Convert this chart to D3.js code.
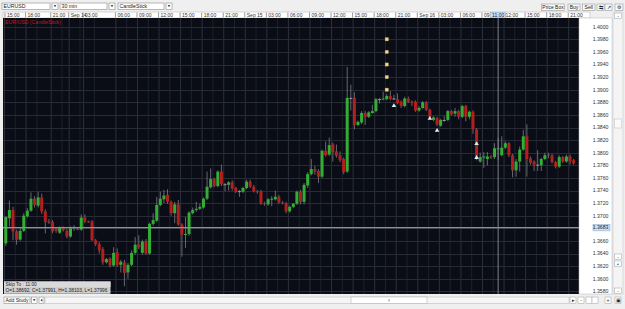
<!DOCTYPE html>
<html>
<head>
<meta charset="utf-8">
<script src="https://cdn.jsdelivr.net/npm/d3@7"></script>
<style>
  html, body { margin: 0; padding: 0; background: #efefef; }
  svg text { font-family: "Liberation Sans", Arial, sans-serif; }
</style>
</head>
<body>
<svg class="chart"></svg>
<script>
// EURUSD 30 min candles
var opens = [1.3656,1.3696,1.3709,1.3675,1.3662,1.3676,1.3699,1.3708,1.3727,1.3716,
  1.3729,1.3707,1.3691,1.3690,1.3680,1.3673,1.3681,1.3676,1.3667,1.3680,
  1.3679,1.3678,1.3697,1.3691,1.3691,1.3661,1.3655,1.3647,1.3626,1.3632,
  1.3621,1.3642,1.3622,1.3626,1.3610,1.3622,1.3641,1.3654,1.3641,1.3660,
  1.3640,1.3687,1.3692,1.3717,1.3726,1.3733,1.3722,1.3704,1.3718,1.3686,
  1.3670,1.3671,1.3704,1.3709,1.3711,1.3713,1.3727,1.3745,1.3758,1.3747,
  1.3770,1.3750,1.3749,1.3753,1.3744,1.3739,1.3738,1.3744,1.3754,1.3746,
  1.3739,1.3739,1.3720,1.3718,1.3726,1.3726,1.3730,1.3721,1.3720,1.3707,
  1.3714,1.3719,1.3738,1.3722,1.3748,1.3766,1.3774,1.3771,1.3762,1.3803,
  1.3797,1.3813,1.3802,1.3796,1.3790,1.3770,1.3887,1.3887,1.3844,1.3848,
  1.3863,1.3857,1.3863,1.3866,1.3885,1.3885,1.3885,1.3890,1.3886,1.3885,
  1.3881,1.3874,1.3886,1.3881,1.3881,1.3867,1.3871,1.3880,1.3868,1.3852,
  1.3855,1.3843,1.3852,1.3852,1.3866,1.3862,1.3866,1.3857,1.3874,1.3857,
  1.3865,1.3837,1.3786,1.3793,1.3790,1.3794,1.3793,1.3806,1.3796,1.3808,
  1.3815,1.3796,1.3772,1.3786,1.3805,1.3826,1.3791,1.3786,1.3781,1.3780,
  1.3790,1.3797,1.3796,1.3785,1.3778,1.3793,1.3786,1.3794,1.3788];
var highs = [1.3699,1.3724,1.3714,1.3678,1.3680,1.3704,1.3712,1.3737,1.3731,1.3738,
  1.3735,1.3710,1.3695,1.3693,1.3682,1.3683,1.3683,1.3679,1.3683,1.3685,
  1.3681,1.3702,1.3702,1.3692,1.3693,1.3663,1.3658,1.3650,1.3633,1.3634,
  1.3650,1.3648,1.3630,1.3630,1.3625,1.3645,1.3666,1.3669,1.3662,1.3663,
  1.3689,1.3704,1.3730,1.3738,1.3741,1.3742,1.3724,1.3722,1.3725,1.3688,
  1.3698,1.3707,1.3713,1.3722,1.3719,1.3729,1.3770,1.3775,1.3760,1.3772,
  1.3781,1.3752,1.3755,1.3756,1.3746,1.3741,1.3746,1.3757,1.3757,1.3749,
  1.3741,1.3741,1.3722,1.3728,1.3731,1.3740,1.3733,1.3723,1.3722,1.3716,
  1.3720,1.3740,1.3741,1.3752,1.3769,1.3790,1.3779,1.3774,1.3805,1.3818,
  1.3824,1.3816,1.3813,1.3802,1.3792,1.3936,1.3908,1.3896,1.3851,1.3866,
  1.3866,1.3866,1.3876,1.3887,1.3887,1.3897,1.3893,1.3898,1.3892,1.3894,
  1.3883,1.3889,1.3889,1.3883,1.3883,1.3874,1.3882,1.3882,1.3870,1.3858,
  1.3857,1.3854,1.3858,1.3868,1.3868,1.3871,1.3868,1.3876,1.3876,1.3867,
  1.3867,1.3839,1.3800,1.3801,1.3801,1.3796,1.3815,1.3824,1.3826,1.3818,
  1.3817,1.3798,1.3790,1.3810,1.3836,1.3845,1.3794,1.3788,1.3804,1.3792,
  1.3800,1.3800,1.3798,1.3787,1.3796,1.3795,1.3797,1.3797,1.3790];
var lows = [1.3652,1.3683,1.3661,1.3654,1.3660,1.3674,1.3697,1.3706,1.3713,1.3713,
  1.3703,1.3672,1.3687,1.3672,1.3673,1.3671,1.3675,1.3664,1.3665,1.3676,
  1.3677,1.3676,1.3688,1.3689,1.3660,1.3652,1.3640,1.3622,1.3624,1.3618,
  1.3619,1.3619,1.3610,1.3588,1.3600,1.3620,1.3638,1.3647,1.3638,1.3638,
  1.3638,1.3684,1.3690,1.3715,1.3720,1.3719,1.3700,1.3688,1.3684,1.3635,
  1.3649,1.3668,1.3702,1.3706,1.3709,1.3711,1.3725,1.3743,1.3745,1.3745,
  1.3747,1.3739,1.3740,1.3740,1.3736,1.3730,1.3736,1.3742,1.3744,1.3737,
  1.3735,1.3717,1.3716,1.3716,1.3715,1.3724,1.3719,1.3718,1.3704,1.3705,
  1.3712,1.3717,1.3718,1.3718,1.3744,1.3764,1.3765,1.3752,1.3760,1.3794,
  1.3795,1.3786,1.3792,1.3785,1.3766,1.3768,1.3867,1.3837,1.3842,1.3845,
  1.3844,1.3855,1.3862,1.3864,1.3878,1.3883,1.3883,1.3883,1.3884,1.3877,
  1.3871,1.3872,1.3879,1.3874,1.3865,1.3865,1.3869,1.3866,1.3856,1.3850,
  1.3842,1.3841,1.3849,1.3850,1.3859,1.3857,1.3853,1.3855,1.3850,1.3853,
  1.3830,1.3788,1.3784,1.3776,1.3780,1.3790,1.3790,1.3788,1.3794,1.3806,
  1.3793,1.3761,1.3762,1.3770,1.3803,1.3762,1.3781,1.3771,1.3771,1.3771,
  1.3788,1.3791,1.3783,1.3775,1.3776,1.3784,1.3784,1.3781,1.3781];
var closes = [1.3698,1.3709,1.3675,1.3662,1.3676,1.3700,1.3708,1.3727,1.3717,1.3729,
  1.3707,1.3690,1.3689,1.3675,1.3676,1.3681,1.3677,1.3667,1.3680,1.3682,
  1.3678,1.3697,1.3691,1.3690,1.3661,1.3655,1.3645,1.3626,1.3631,1.3621,
  1.3641,1.3622,1.3627,1.3609,1.3622,1.3641,1.3654,1.3650,1.3659,1.3640,
  1.3687,1.3693,1.3717,1.3727,1.3732,1.3722,1.3704,1.3718,1.3686,1.3670,
  1.3671,1.3705,1.3709,1.3711,1.3714,1.3727,1.3746,1.3758,1.3747,1.3770,
  1.3750,1.3750,1.3753,1.3743,1.3738,1.3739,1.3744,1.3754,1.3746,1.3739,
  1.3738,1.3719,1.3718,1.3726,1.3727,1.3730,1.3721,1.3720,1.3707,1.3714,
  1.3719,1.3738,1.3722,1.3749,1.3766,1.3774,1.3770,1.3762,1.3803,1.3796,
  1.3812,1.3801,1.3795,1.3788,1.3769,1.3887,1.3887,1.3844,1.3849,1.3863,
  1.3857,1.3864,1.3866,1.3885,1.3885,1.3886,1.3890,1.3885,1.3886,1.3879,
  1.3874,1.3886,1.3881,1.3880,1.3867,1.3871,1.3880,1.3868,1.3857,1.3856,
  1.3845,1.3852,1.3852,1.3866,1.3861,1.3866,1.3857,1.3874,1.3857,1.3865,
  1.3837,1.3791,1.3793,1.3794,1.3794,1.3793,1.3807,1.3807,1.3808,1.3815,
  1.3796,1.3772,1.3786,1.3805,1.3826,1.3790,1.3784,1.3781,1.3781,1.3790,
  1.3796,1.3796,1.3785,1.3778,1.3793,1.3786,1.3794,1.3786,1.3783];

// time axis: candle index where each label sits, and its text
var tickIndex = [0, 6, 13, 18, 22, 31, 37, 43, 49, 55, 61, 67, 73, 79, 85, 91, 97,
  103, 109, 115, 121, 127, 133, 139, 145, 151, 157];
var tickLabels = ["15:00", "18:00", "21:00", "Sep 14", "03:00", "06:00", "09:00",
  "12:00", "15:00", "18:00", "21:00", "Sep 15", "03:00", "06:00", "09:00", "12:00",
  "15:00", "18:00", "21:00", "Sep 16", "03:00", "06:00", "09:00", "12:00", "15:00",
  "18:00", "21:00"];

// price axis labels
var priceTicks = d3.range(1.4000, 1.3570, -0.0020);

// study markers
var squareIndex = [106, 106, 106, 106, 106];
var squarePrice = [1.3980, 1.3960, 1.3940, 1.3920, 1.3900];
var triIndex = [108, 118, 120, 131, 131];
var triPrice = [1.38755, 1.3855, 1.3836, 1.3815, 1.3793];

// crosshair
var crossIndex = 137;
var crossPrice = 1.3681;
var crossPriceLabel = "1.3683";
var crossTimeLabel = "11:00";

var W = 625, H = 309;
var plot = { left: 3, right: 579, top: 18, bottom: 294 };

var svg = d3.select(".chart").attr("width", W).attr("height", H);

svg.append("rect").attr("width", W).attr("height", H).attr("fill", "#efefef");

var x = d3.scaleBand()
    .domain(d3.range(160))
    .range([plot.left + 1, plot.right])
    .paddingInner(0);
var y = d3.scaleLinear()
    .domain([1.3580, 1.4000])
    .range([291.3, 26.7]);
var bw = x.bandwidth();
function cx(i) { return x(i) + bw / 2; }

var defs = svg.append("defs");

// ---- toolbar ----
function dropdown(x0, w, label) {
  var g = svg.append("g");
  g.append("rect").attr("x", x0).attr("y", 3).attr("width", w).attr("height", 6.5)
      .attr("fill", "#fff").attr("stroke", "#8a8a8a").attr("stroke-width", 0.6);
  g.append("text").attr("x", x0 + 1.5).attr("y", 8.2).attr("font-size", 5.2)
      .attr("fill", "#222").text(label);
  g.append("rect").attr("x", x0 + w + 2).attr("y", 3).attr("width", 6).attr("height", 6.5)
      .attr("fill", "#fff").attr("stroke", "#8a8a8a").attr("stroke-width", 0.6);
  g.append("path")
      .attr("d", "M" + (x0 + w + 3.6) + ",5.3 h2.8 l-1.4,1.8 z")
      .attr("fill", "#222");
}
dropdown(2, 48, "EURUSD");
dropdown(60, 47, "30 min");
dropdown(118, 46, "CandleStick");

var buttons = [{ x: 541.5, w: 23, t: "Price Box" }, { x: 568, w: 12, t: "Buy" },
  { x: 582.5, w: 12.5, t: "Sell" }, { x: 597, w: 7, t: "⇆" }, { x: 605, w: 7, t: "↗" },
  { x: 615, w: 8, t: "⚙" }];
buttons.forEach(function(b) {
  svg.append("rect").attr("x", b.x).attr("y", 4).attr("width", b.w).attr("height", 6.5)
      .attr("fill", "#f8f8f8").attr("stroke", "#9a9a9a").attr("stroke-width", 0.6);
  svg.append("text").attr("x", b.x + b.w / 2).attr("y", 9.2).attr("text-anchor", "middle")
      .attr("font-size", 5).attr("fill", "#222").text(b.t);
});

// ---- time axis strip ----
svg.append("rect").attr("x", plot.left).attr("y", 12).attr("width", 587).attr("height", 6)
    .attr("fill", "#fff").attr("stroke", "#b0b0b0").attr("stroke-width", 0.5);

// the crosshair time box covers part of the strip, so clip labels around it
var hlLeft = cx(crossIndex) - 7.5, hlRight = cx(crossIndex) + 7.5;
var tclip = defs.append("clipPath").attr("id", "timeclip");
tclip.append("rect").attr("x", 0).attr("y", 10).attr("width", hlLeft).attr("height", 10);
tclip.append("rect").attr("x", hlRight).attr("y", 10).attr("width", W - hlRight).attr("height", 10);

var tg = svg.append("g").attr("class", "timeaxis").attr("clip-path", "url(#timeclip)");
tickIndex.forEach(function(t, k) {
  var xx = Math.max(x(t), plot.left + 2);
  tg.append("line").attr("x1", xx).attr("x2", xx).attr("y1", 12.5).attr("y2", 17.5)
      .attr("stroke", "#555").attr("stroke-width", 0.6);
  tg.append("text").attr("x", xx + 2).attr("y", 16.9).attr("font-size", 5)
      .attr("fill", "#333").text(tickLabels[k]);
});
// highlighted crosshair time
svg.append("rect").attr("x", hlLeft).attr("y", 12.3).attr("width", 15).attr("height", 5.6)
    .attr("fill", "#cfe0f4").attr("stroke", "#7fa3cf").attr("stroke-width", 0.5);
svg.append("text").attr("x", cx(crossIndex)).attr("y", 16.9).attr("text-anchor", "middle")
    .attr("font-size", 5).attr("fill", "#222").text(crossTimeLabel);

// ---- plot area ----
defs.append("clipPath").attr("id", "plotclip")
  .append("rect").attr("x", plot.left).attr("y", plot.top)
    .attr("width", plot.right - plot.left).attr("height", plot.bottom - plot.top);

svg.append("rect")
    .attr("x", plot.left).attr("y", plot.top)
    .attr("width", plot.right - plot.left).attr("height", plot.bottom - plot.top)
    .attr("fill", "#0b0d16");

var pg = svg.append("g").attr("clip-path", "url(#plotclip)");

// grid: minor verticals halfway between labels, majors at labels
pg.append("g").selectAll("line").data(tickIndex.map(function(t) { return t + 3; }))
  .enter().append("line")
    .attr("x1", function(d) { return x(d) + 0.5; })
    .attr("x2", function(d) { return x(d) + 0.5; })
    .attr("y1", plot.top).attr("y2", plot.bottom)
    .attr("stroke", "#1d212c").attr("stroke-width", 1);
pg.append("g").selectAll("line").data(tickIndex)
  .enter().append("line")
    .attr("x1", function(d) { return x(d) + 0.5; })
    .attr("x2", function(d) { return x(d) + 0.5; })
    .attr("y1", plot.top).attr("y2", plot.bottom)
    .attr("stroke", "#2c303b").attr("stroke-width", 1);
pg.append("g").selectAll("line").data(priceTicks)
  .enter().append("line")
    .attr("x1", plot.left).attr("x2", plot.right)
    .attr("y1", function(d) { return Math.round(y(d)) + 0.5; })
    .attr("y2", function(d) { return Math.round(y(d)) + 0.5; })
    .attr("stroke", "#272b36").attr("stroke-width", 1);

// series label
pg.append("text").attr("x", plot.left + 2).attr("y", 23.5).attr("font-size", 5.2)
    .attr("fill", "#c4161c").text("EUR/USD (CandleStick)");

// candles
var candles = d3.range(opens.length).map(function(i) {
  return { i: i, o: opens[i], h: highs[i], l: lows[i], c: closes[i] };
});
function colour(d) {
  if (d.c > d.o) return "#34ad34";
  if (d.c < d.o) return "#b21f1d";
  return "#9a9a9a";
}
var cg = pg.append("g").attr("class", "candles");
cg.selectAll("line").data(candles)
  .enter().append("line")
    .attr("x1", function(d) { return cx(d.i); })
    .attr("x2", function(d) { return cx(d.i); })
    .attr("y1", function(d) { return y(d.h); })
    .attr("y2", function(d) { return y(d.l); })
    .attr("stroke", "#7c7f86").attr("stroke-width", 0.8);
cg.selectAll("rect").data(candles)
  .enter().append("rect")
    .attr("x", function(d) { return cx(d.i) - 1.5; })
    .attr("width", 3)
    .attr("y", function(d) { return y(Math.max(d.o, d.c)); })
    .attr("height", function(d) { return Math.max(1, Math.abs(y(d.o) - y(d.c))); })
    .attr("fill", colour);

// study markers
pg.append("g").selectAll("rect").data(squareIndex)
  .enter().append("rect")
    .attr("x", function(d) { return cx(d) - 1.6; })
    .attr("y", function(d, k) { return y(squarePrice[k]) - 1.6; })
    .attr("width", 3.2).attr("height", 3.2)
    .attr("fill", "#f5d494").attr("stroke", "#c9a35a").attr("stroke-width", 0.4);
pg.append("g").selectAll("path").data(triIndex)
  .enter().append("path")
    .attr("d", function(d, k) {
      var px = cx(d), py = y(triPrice[k]);
      return "M" + px + "," + (py - 2) + " L" + (px + 2.3) + "," + (py + 1.8) +
        " L" + (px - 2.3) + "," + (py + 1.8) + " Z";
    })
    .attr("fill", "#d6eef6");

// crosshair
pg.append("line")
    .attr("x1", plot.left).attr("x2", plot.right)
    .attr("y1", y(crossPrice)).attr("y2", y(crossPrice))
    .attr("stroke", "#8d929c").attr("stroke-width", 1.3);
pg.append("line")
    .attr("x1", cx(crossIndex)).attr("x2", cx(crossIndex))
    .attr("y1", plot.top).attr("y2", plot.bottom)
    .attr("stroke", "#7d828d").attr("stroke-width", 1);

// info box
var ib = svg.append("g");
ib.append("rect").attr("x", 4).attr("y", 281.5).attr("width", 106.5).attr("height", 12.3)
    .attr("fill", "#cfcfcf");
ib.append("rect").attr("x", 4).attr("y", 281.5).attr("width", 106.5).attr("height", 5.5)
    .attr("fill", "#dadada");
ib.append("text").attr("x", 5.5).attr("y", 286.3).attr("font-size", 4.8).attr("fill", "#222")
    .text("Skip To : 11:00");
ib.append("text").attr("x", 5.5).attr("y", 292.3).attr("font-size", 4.8).attr("fill", "#222")
    .text("O=1.38692, C=1.37991, H=1.38103, L=1.37996");

// ---- price axis ----
defs.append("clipPath").attr("id", "axisclip")
  .append("rect").attr("x", plot.right).attr("y", plot.top)
    .attr("width", 34).attr("height", plot.bottom - plot.top);
svg.append("rect").attr("x", plot.right).attr("y", plot.top)
    .attr("width", 33).attr("height", plot.bottom - plot.top)
    .attr("fill", "#fff").attr("stroke", "#b8b8b8").attr("stroke-width", 0.5);
var ag = svg.append("g").attr("clip-path", "url(#axisclip)");
ag.selectAll("text").data(priceTicks.filter(function(d) {
    return Math.abs(y(d) - y(crossPrice)) > 5;
  }))
  .enter().append("text")
    .attr("x", 608.5).attr("y", function(d) { return y(d) + 1.8; })
    .attr("text-anchor", "end").attr("font-size", 5.2).attr("fill", "#333")
    .text(function(d) { return d3.format(".4f")(d); });
ag.append("rect").attr("x", 593).attr("y", y(crossPrice) - 3.2).attr("width", 17).attr("height", 6.4)
    .attr("fill", "#cfe0f4").attr("stroke", "#7fa3cf").attr("stroke-width", 0.5);
ag.append("text").attr("x", 608.5).attr("y", y(crossPrice) + 1.8)
    .attr("text-anchor", "end").attr("font-size", 5.2).attr("fill", "#222")
    .text(crossPriceLabel);

// ---- right scrollbar ----
svg.append("rect").attr("x", 613).attr("y", 12).attr("width", 10).attr("height", 282)
    .attr("fill", "#f4f4f4").attr("stroke", "#c4c4c4").attr("stroke-width", 0.5);
[[13, "-"], [254, "-"], [261, "•"], [288, "-"]].forEach(function(b) {
  svg.append("rect").attr("x", 614.5).attr("y", b[0]).attr("width", 7).attr("height", 5.5)
      .attr("fill", "#fff").attr("stroke", "#a0a0a0").attr("stroke-width", 0.5);
  svg.append("text").attr("x", 618).attr("y", b[0] + 4.5).attr("text-anchor", "middle")
      .attr("font-size", 5).attr("fill", "#333").text(b[1]);
});
svg.append("rect").attr("x", 614.5).attr("y", 119).attr("width", 7).attr("height", 9)
    .attr("fill", "#fafafa").attr("stroke", "#bbb").attr("stroke-width", 0.5);

// ---- bottom bar ----
svg.append("rect").attr("x", 4).attr("y", 297).attr("width", 26).attr("height", 6.5)
    .attr("fill", "#fff").attr("stroke", "#8a8a8a").attr("stroke-width", 0.6);
svg.append("text").attr("x", 5.5).attr("y", 302.2).attr("font-size", 5).attr("fill", "#222")
    .text("Add Study");
svg.append("rect").attr("x", 31.5).attr("y", 297).attr("width", 5.5).attr("height", 6.5)
    .attr("fill", "#fff").attr("stroke", "#8a8a8a").attr("stroke-width", 0.6);
svg.append("path").attr("d", "M32.8,299.3 h2.8 l-1.4,1.8 z").attr("fill", "#222");
svg.append("rect").attr("x", 39).attr("y", 297).attr("width", 5).attr("height", 6.5)
    .attr("fill", "#fff").attr("stroke", "#8a8a8a").attr("stroke-width", 0.6);
svg.append("path").attr("d", "M42.3,298.8 v3 l-1.6,-1.5 z").attr("fill", "#222");
svg.append("rect").attr("x", 45).attr("y", 297).attr("width", 524).attr("height", 6.5)
    .attr("fill", "#f6f6f6").attr("stroke", "#b4b4b4").attr("stroke-width", 0.5);
svg.append("rect").attr("x", 351).attr("y", 297).attr("width", 76).attr("height", 6.5)
    .attr("fill", "#fff").attr("stroke", "#a8a8a8").attr("stroke-width", 0.5);
svg.append("rect").attr("x", 388).attr("y", 299.3).attr("width", 2).attr("height", 2).attr("fill", "#bbb");
[[570, "▸"], [578, "-"], [586, ""], [592, ""], [605, "+"], [615, "▣"]].forEach(function(b) {
  svg.append("rect").attr("x", b[0]).attr("y", 297).attr("width", 6).attr("height", 6.5)
      .attr("fill", "#fff").attr("stroke", "#a0a0a0").attr("stroke-width", 0.5);
  svg.append("text").attr("x", b[0] + 3).attr("y", 302.2).attr("text-anchor", "middle")
      .attr("font-size", 5).attr("fill", "#222").text(b[1]);
});
</script>
</body>
</html>
